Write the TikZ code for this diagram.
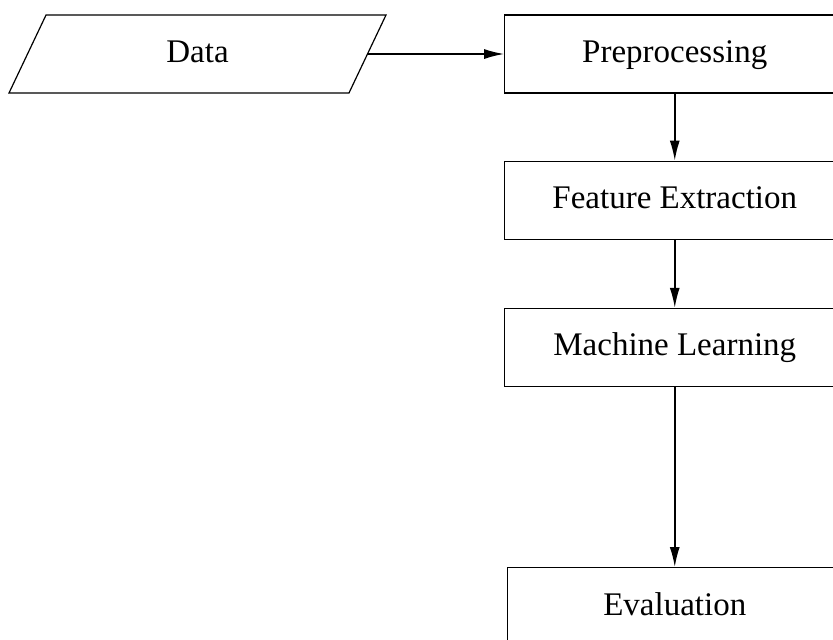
\documentclass[tikz,border=0pt]{standalone}
\usepackage{fontspec}
\setmainfont{Liberation Serif}
\usetikzlibrary{arrows.meta,positioning,shapes.geometric}

\begin{document}
\begin{tikzpicture}[node distance=33.5pt and 68pt,>={Latex[length=10pt,width=5pt]},
 n/.style={draw,line width=0.6pt,minimum width=170pt,minimum height=39pt,align=center,
  text height=11.5pt,text depth=3pt,font=\fontsize{16.5}{20}\selectfont},
 io/.style={n,trapezium,trapezium left angle=64.6,trapezium right angle=115.4,trapezium stretches body,
  inner ysep=12.25pt,minimum width=188.5pt},
 ar/.style={->,line width=0.8pt}]
 \useasboundingbox (-98.75pt,27pt) rectangle (317.75pt,-292.5pt);
 \clip (-98.75pt,27pt) rectangle (317.75pt,-292.5pt);
 \node[io] (data) {Data};
 \node[n,right=of data] (prep) {Preprocessing};
 \node[n,below=of prep] (feat) {Feature Extraction};
 \node[n,below=34pt of feat] (learn) {Machine Learning};
 \node[n,minimum width=167pt,below=90pt of learn] (eval) {Evaluation};
 \draw[ar] (data)--(prep);
 \draw[ar] (prep)--(feat);
 \draw[ar] (feat)--(learn);
 \draw[ar] (learn)--(eval);
\end{tikzpicture}
\end{document}
